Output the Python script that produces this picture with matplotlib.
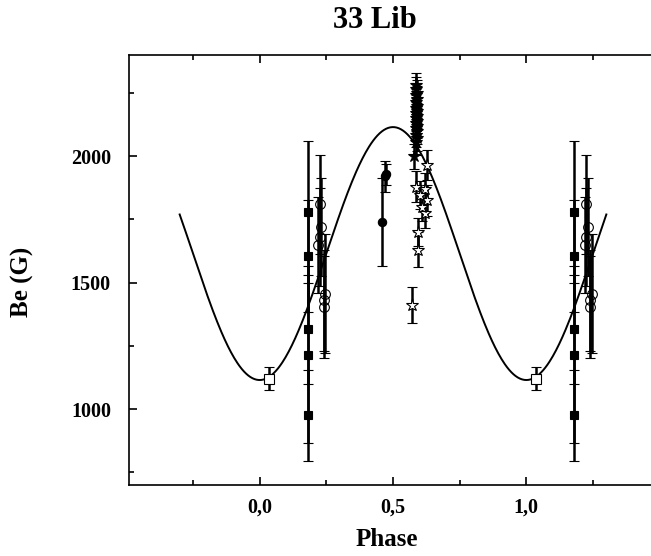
import numpy as np
import matplotlib
matplotlib.use("Agg")
import matplotlib.pyplot as plt
from matplotlib.ticker import MultipleLocator, FuncFormatter

plt.rcParams['font.family'] = ['Liberation Serif', 'DejaVu Serif']
plt.rcParams['font.weight'] = 'bold'

# fitted curve  Be = B0 + B1*cos(2pi(phase - phi0))
fit_b0 = 1615
fit_b1 = 500
fit_phi0 = 0.5
fit_range = (-0.3, 1.3)

# open squares
sq_open_phase = [0.035]
sq_open_be = [1120]
sq_open_err = [45]

# filled squares
sq_fill_phase = [0.18, 0.18, 0.18, 0.18, 0.18]
sq_fill_be = [1780, 1605, 1315, 1215, 975]
sq_fill_err = [280, 220, 215, 350, 180]

# open circles
circ_open_phase = [0.225, 0.23, 0.225, 0.22, 0.245, 0.24, 0.24]
circ_open_be = [1810, 1720, 1680, 1648, 1457, 1431, 1404]
circ_open_err = [195, 195, 195, 190, 235, 200, 200]

# filled circles
circ_fill_phase = [0.46, 0.47, 0.475]
circ_fill_be = [1740, 1920, 1928]
circ_fill_err = [175, 60, 40]

# filled stars
star_fill_phase = [0.585, 0.585, 0.59, 0.585, 0.59, 0.585, 0.59, 0.585, 0.59, 0.585,
                   0.59, 0.585, 0.59, 0.585, 0.59, 0.585, 0.59, 0.585, 0.59, 0.585, 0.58]
star_fill_be = [2280, 2265, 2250, 2240, 2228, 2215, 2200, 2190, 2180, 2170,
                2160, 2150, 2140, 2130, 2120, 2110, 2100, 2085, 2070, 2055, 2000]
star_fill_err = [50] * 21

# open stars
star_open_phase = [0.572, 0.626, 0.585, 0.62, 0.628, 0.62, 0.60, 0.61, 0.592, 0.592]
star_open_be = [1411, 1965, 1880, 1872, 1825, 1775, 1845, 1800, 1700, 1630]
star_open_err = [70, 60, 60, 60, 60, 60, 55, 55, 55, 70]

fig = plt.figure(figsize=(6.51, 5.56), dpi=100)
ax = fig.add_axes([129 / 651, 71 / 556, 528 / 651, 430 / 556])

ph = np.linspace(fit_range[0], fit_range[1], 400)
ax.plot(ph, fit_b0 + fit_b1 * np.cos(2 * np.pi * (ph - fit_phi0)), color='black', lw=1.4, zorder=2)

ebkw = dict(ls='none', ecolor='black', elinewidth=1.8, capsize=3.5, capthick=1.6,
            markeredgecolor='black', markeredgewidth=0.8, zorder=3)


def draw(phase, be, err, marker, face, ms, repeat):
    phase = np.array(phase)
    ax.errorbar(phase, be, yerr=err, fmt=marker, mfc=face, ms=ms, **ebkw)
    if repeat:
        ax.errorbar(phase + 1, be, yerr=err, fmt=marker, mfc=face, ms=ms, **ebkw)


draw(sq_open_phase, sq_open_be, sq_open_err, 's', 'white', 6.5, True)
draw(sq_fill_phase, sq_fill_be, sq_fill_err, 's', 'black', 6, True)
draw(circ_open_phase, circ_open_be, circ_open_err, 'o', 'none', 7, True)
draw(circ_fill_phase, circ_fill_be, circ_fill_err, 'o', 'black', 6, False)
draw(star_fill_phase, star_fill_be, star_fill_err, '*', 'black', 9, False)
draw(star_open_phase, star_open_be, star_open_err, '*', 'white', 9.5, False)

ax.set_xlim(-0.49, 1.49)
ax.set_ylim(700, 2400)
ax.xaxis.set_major_locator(MultipleLocator(0.5))
ax.xaxis.set_minor_locator(MultipleLocator(0.25))
ax.yaxis.set_major_locator(MultipleLocator(500))
ax.yaxis.set_minor_locator(MultipleLocator(250))
ax.xaxis.set_major_formatter(FuncFormatter(lambda v, p: f"{v:.1f}".replace('.', ',')))
ax.tick_params(which='both', direction='in', top=True, right=False, width=1.2)
ax.tick_params(which='major', length=6, labelsize=14.5)
ax.tick_params(which='minor', length=3.5)
ax.tick_params(axis='x', pad=9)
ax.tick_params(axis='y', pad=13)
for lab in ax.get_xticklabels() + ax.get_yticklabels():
    lab.set_fontweight('bold')
for s in ax.spines.values():
    s.set_linewidth(1.2)

fig.text(375 / 651, 1 - 28 / 556, '33 Lib', ha='center', va='baseline', fontsize=22, fontweight='bold')
fig.text(387 / 651, 1 - 540 / 556, 'Phase', ha='center', va='center', fontsize=18, fontweight='bold')
fig.text(22 / 651, 1 - 282 / 556, 'Be (G)', ha='center', va='center', rotation=90, fontsize=18,
         fontweight='bold')

fig.savefig('out.png', dpi=100)
